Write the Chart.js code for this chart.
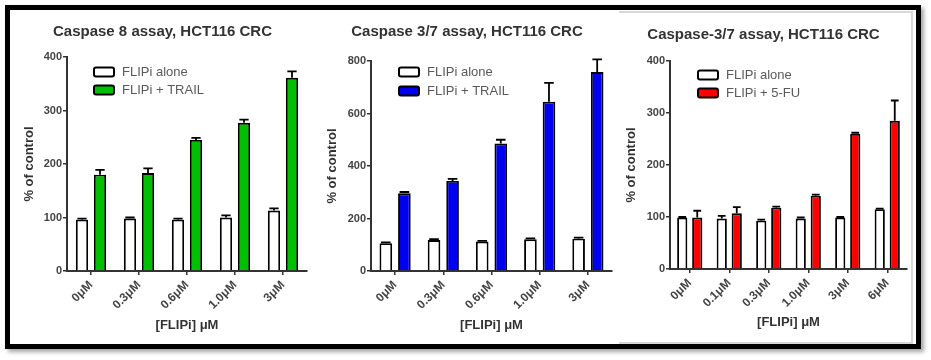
<!DOCTYPE html>
<html>
<head>
<meta charset="utf-8">
<script src="https://cdn.jsdelivr.net/npm/chart.js@4"></script>
<style>
  html, body { margin: 0; padding: 0; background: #fff; width: 931px; height: 360px; overflow: hidden; }
  .frame { position: absolute; left: 5px; top: 5px; width: 906px; height: 334px;
           border: 5px solid #000; box-shadow: 3px 3px 4px rgba(0,0,0,0.35); }
  .inner { position: absolute; left: 619px; top: 11px; width: 292px; height: 329px;
           border: 2px solid #d8d8d8; border-left: none; }
  canvas { position: absolute; top: 12px; }
</style>
</head>
<body>
<div class="frame"></div>
<div class="inner"></div>
<canvas id="c1" width="310" height="328" style="left:18px"></canvas>
<canvas id="c2" width="310" height="328" style="left:322px"></canvas>
<canvas id="c3" width="310" height="328" style="left:620px"></canvas>
<script>
// ── Data ─────────────────────────────────────────────────────
const cats1     = ['0μM', '0.3μM', '0.6μM', '1.0μM', '3μM'];
const alone1    = [96, 98, 96, 100, 113];
const alone1Err = [2, 2, 2, 4, 4];
const trail1    = [180, 183, 245, 277, 361];
const trail1Err = [9, 9, 4, 6, 12];
const yTicks1   = [0, 100, 200, 300, 400];

const cats2     = ['0μM', '0.3μM', '0.6μM', '1.0μM', '3μM'];
const alone2    = [106, 118, 112, 121, 123];
const alone2Err = [3, 3, 3, 3, 4];
const trail2    = [296, 343, 486, 645, 758];
const trail2Err = [5, 8, 14, 72, 48];
const yTicks2   = [0, 200, 400, 600, 800];

const cats3     = ['0μM', '0.1μM', '0.3μM', '1.0μM', '3μM', '6μM'];
const alone3    = [99, 97, 93, 97, 99, 115];
const alone3Err = [1, 5, 2, 2, 1, 1];
const fu3       = [99, 107, 118, 141, 260, 285];
const fu3Err    = [13, 12, 2, 2, 2, 39];
const yTicks3   = [0, 100, 200, 300, 400];

Chart.defaults.font.family = "'Liberation Sans', Arial, sans-serif";
Chart.defaults.color = '#444';

// ── Plugins ──────────────────────────────────────────────────
// upward-only SEM bars, GraphPad style
const errorBars = {
  id: 'errorBars',
  afterDatasetsDraw(chart) {
    const { ctx, scales: { y } } = chart;
    ctx.save();
    ctx.strokeStyle = '#000';
    ctx.lineWidth = 1.8;
    chart.data.datasets.forEach((ds, i) => {
      if (!ds.errors) return;
      chart.getDatasetMeta(i).data.forEach((bar, j) => {
        const top = y.getPixelForValue(ds.data[j] + ds.errors[j]);
        const half = bar.width * 0.38;
        ctx.beginPath();
        ctx.moveTo(bar.x, bar.y);
        ctx.lineTo(bar.x, top);
        ctx.moveTo(bar.x - half, top);
        ctx.lineTo(bar.x + half, top);
        ctx.stroke();
      });
    });
    ctx.restore();
  }
};

const boxLegend = {
  id: 'boxLegend',
  afterDraw(chart, args, opts) {
    const { ctx, chartArea } = chart;
    ctx.save();
    chart.data.datasets.forEach((ds, i) => {
      const x = chartArea.left + opts.x;
      const y = chartArea.top + opts.y + i * opts.gap;
      ctx.fillStyle = ds.backgroundColor;
      ctx.strokeStyle = '#000';
      ctx.lineWidth = 2;
      ctx.beginPath();
      ctx.roundRect(x, y - 4.5, 20, 9, 2);
      ctx.fill();
      ctx.stroke();
      ctx.fillStyle = '#5a5a5a';
      ctx.font = "13px 'Liberation Sans', Arial, sans-serif";
      ctx.textBaseline = 'middle';
      ctx.textAlign = 'left';
      ctx.fillText(ds.label, x + 28, y + 0.5);
    });
    ctx.restore();
  }
};

// ── Panel builder ────────────────────────────────────────────
function panel(id, cfg) {
  const ctx = document.getElementById(id).getContext('2d');
  return new Chart(ctx, {
    type: 'bar',
    data: {
      labels: cfg.labels,
      datasets: [
        { label: 'FLIPi alone', data: cfg.alone, errors: cfg.aloneErr,
          backgroundColor: '#ffffff', borderColor: '#000', borderWidth: 1.9,
          categoryPercentage: cfg.cp, barPercentage: 0.68 },
        { label: cfg.treatLabel, data: cfg.treat, errors: cfg.treatErr,
          backgroundColor: cfg.color, borderColor: '#000', borderWidth: 1.9,
          categoryPercentage: cfg.cp, barPercentage: 0.68 },
      ]
    },
    options: {
      responsive: false,
      animation: false,
      devicePixelRatio: 1,
      layout: { padding: { left: 0, right: cfg.padRight, top: 0, bottom: 0 } },
      plugins: {
        legend: { display: false },
        tooltip: { enabled: false },
        title: {
          display: true,
          text: cfg.title,
          color: '#333',
          font: { size: 15, weight: 'bold' },
          padding: { top: cfg.titleTop, bottom: cfg.titleBottom },
        },
        boxLegend: cfg.legend,
      },
      scales: {
        x: {
          grid: { display: true, drawOnChartArea: false, offset: false,
                  tickLength: 4, color: '#333', lineWidth: 1.5 },
          border: { color: '#333', width: 2 },
          ticks: { minRotation: 45, maxRotation: 45, padding: 3,
                   color: '#444', font: { size: 12, weight: 'bold' } },
          title: { display: true, text: '[FLIPi] μM', color: '#333',
                   font: { size: 13, weight: 'bold' },
                   padding: { top: 0, bottom: cfg.xTitleBottom } },
          afterFit: axis => { axis.height = cfg.xHeight; },
        },
        y: {
          min: 0,
          max: cfg.yTicks[cfg.yTicks.length - 1],
          afterBuildTicks: axis => { axis.ticks = cfg.yTicks.map(v => ({ value: v })); },
          grid: { display: true, drawOnChartArea: false, tickLength: 4,
                  color: '#333', lineWidth: 1.5 },
          border: { color: '#333', width: 2 },
          ticks: { padding: 1, color: '#444', font: { size: 11, weight: 'bold' } },
          title: { display: true, text: '% of control', color: '#333',
                   font: { size: 13, weight: 'bold' },
                   padding: { top: cfg.yTitleTop, bottom: 0 } },
          afterFit: axis => { axis.width = cfg.yWidth; },
        }
      }
    },
    plugins: [errorBars, boxLegend]
  });
}

panel('c1', {
  title: 'Caspase 8 assay, HCT116 CRC', labels: cats1,
  alone: alone1, aloneErr: alone1Err, treat: trail1, treatErr: trail1Err,
  treatLabel: 'FLIPi + TRAIL', color: '#00c000', yTicks: yTicks1, cp: 0.75,
  padRight: 21, titleTop: 11, titleBottom: 16, xHeight: 69, xTitleBottom: 7,
  yWidth: 49, yTitleTop: 4, legend: { x: 27, y: 15, gap: 18 },
});

panel('c2', {
  title: 'Caspase 3/7 assay, HCT116 CRC', labels: cats2,
  alone: alone2, aloneErr: alone2Err, treat: trail2, treatErr: trail2Err,
  treatLabel: 'FLIPi + TRAIL', color: '#0000f0', yTicks: yTicks2, cp: 0.77,
  padRight: 20, titleTop: 11, titleBottom: 20, xHeight: 69, xTitleBottom: 7,
  yWidth: 49, yTitleTop: 3, legend: { x: 28, y: 11, gap: 19 },
});

panel('c3', {
  title: 'Caspase-3/7 assay, HCT116 CRC', labels: cats3,
  alone: alone3, aloneErr: alone3Err, treat: fu3, treatErr: fu3Err,
  treatLabel: 'FLIPi + 5-FU', color: '#ff0000', yTicks: yTicks3, cp: 0.76,
  padRight: 23, titleTop: 14, titleBottom: 17, xHeight: 71, xTitleBottom: 10,
  yWidth: 50, yTitleTop: 4, legend: { x: 28, y: 14, gap: 18 },
});
</script>
</body>
</html>
